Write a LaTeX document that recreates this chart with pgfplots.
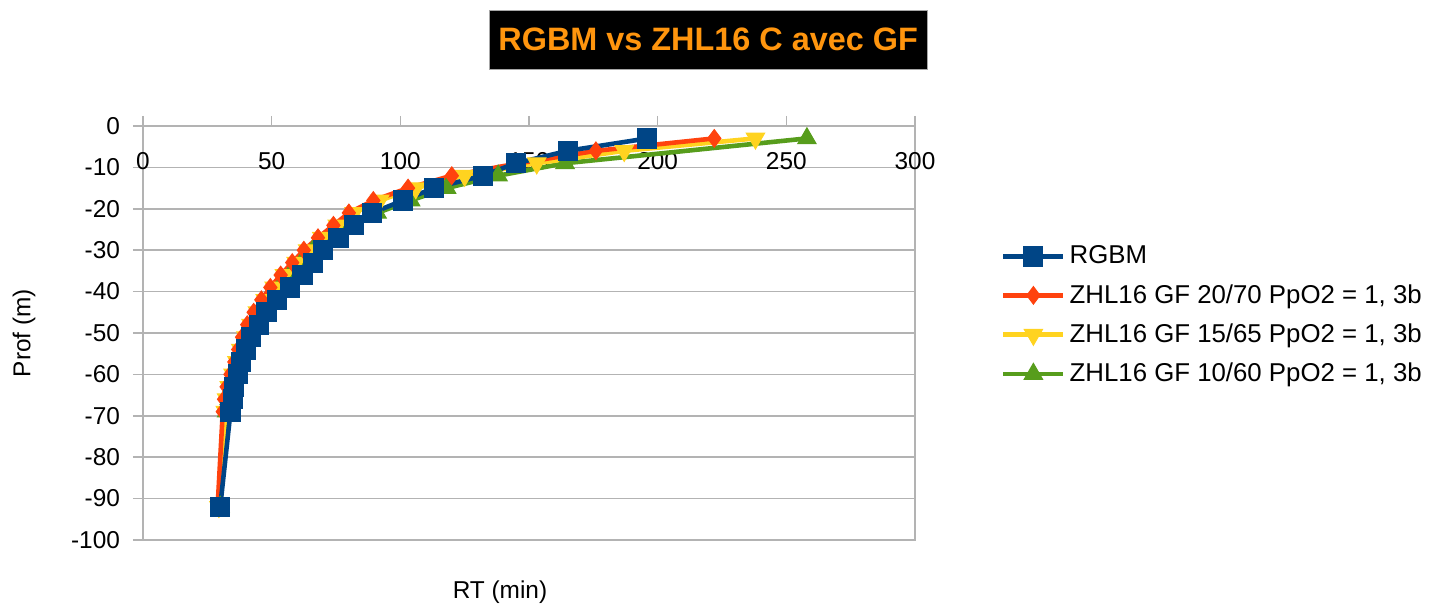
\documentclass[border=0pt]{standalone}
\usepackage{pgfplots}
\pgfplotsset{compat=1.18}
\usepackage{fontspec}
\setmainfont{Liberation Sans}
\definecolor{cblue}{HTML}{004586}
\definecolor{corange}{HTML}{FF420E}
\definecolor{cyellow}{HTML}{FFD320}
\definecolor{cgreen}{HTML}{579D1C}
\definecolor{ctitle}{HTML}{FF950E}
\definecolor{cgrid}{HTML}{B3B3B3}
\begin{document}
\begin{tikzpicture}
\begin{axis}[
  scale only axis, width=386pt, height=207pt,
  xmin=0, xmax=300, ymin=-100, ymax=0,
  xtick={0,50,...,300}, ytick={-100,-90,...,0},
  xtick pos=upper, ytick pos=left, xticklabel pos=upper,
  tick align=outside, major tick length=5pt,
  axis line style={cgrid, line width=0.75pt},
  every tick/.style={cgrid, line width=0.75pt},
  ymajorgrids, grid style={cgrid, line width=0.75pt},
  /pgf/number format/assume math mode=true,
  tick label style={font=\fontsize{12.2pt}{14pt}\selectfont},
  xticklabel style={anchor=center, yshift=-22.5pt},
  yticklabel style={xshift=-3pt},
  xlabel={RT (min)}, ylabel={Prof (m)},
  label style={font=\fontsize{12.2pt}{14pt}\selectfont},
  xlabel style={at={(rel axis cs:0.4624,-0.1256)}, anchor=center},
  ylabel style={at={(rel axis cs:-0.154,0.5)}, anchor=center, rotate=0},
  legend style={at={(1.111,0.5426)}, anchor=west, draw=none, fill=none,
    inner sep=0pt, row sep=4.8pt,
    font=\fontsize{12.9pt}{15pt}\selectfont},
  legend cell align=left,
  legend image code/.code={\draw[mark repeat=2,mark phase=2,#1] plot coordinates {(0pt,0pt) (15pt,0pt) (30pt,0pt)};},
  reverse legend,
]
\addplot[cgreen, line width=2.3pt, mark=triangle*, mark size=5.3pt, mark options={solid, line width=0.5pt}] coordinates {
(30,-92) (32.5,-69) (33.5,-66) (34.5,-63) (36,-60) (37.5,-57) (39.5,-54) (41.5,-51) (44,-48) (46.5,-45) (49.5,-42) (53,-39) (57,-36) (61.5,-33) (66,-30) (73,-27) (80,-24) (91,-21) (104,-18) (118,-15) (138,-12) (164,-9) (258,-3)};
\addlegendentry{ZHL16 GF 10/60 PpO2 = 1, 3b}
\addplot[cyellow, line width=2.3pt, mark=triangle*, mark size=5.3pt, mark options={solid, rotate=180, line width=0.5pt}] coordinates {
(29.5,-92) (32,-69) (32.5,-66) (33.5,-63) (35,-60) (36.5,-57) (38,-54) (40,-51) (42,-48) (44.5,-45) (47.5,-42) (51,-39) (55,-36) (59.5,-33) (64,-30) (69.5,-27) (75.5,-24) (82,-21) (92,-18) (106,-15) (125,-12) (153,-9) (187,-6) (238,-3)};
\addlegendentry{ZHL16 GF 15/65 PpO2 = 1, 3b}
\addplot[corange, line width=2.3pt, mark=diamond*, mark size=4.4pt, mark options={solid, line width=0.5pt}] coordinates {
(29,-92) (31,-69) (31.5,-66) (32.5,-63) (34,-60) (35.5,-57) (37,-54) (38.5,-51) (40.5,-48) (43,-45) (46,-42) (49.5,-39) (53.5,-36) (58,-33) (62.5,-30) (68,-27) (74,-24) (80,-21) (89.5,-18) (103,-15) (120,-12) (146,-9) (176,-6) (222,-3)};
\addlegendentry{ZHL16 GF 20/70 PpO2 = 1, 3b}
\addplot[cblue, line width=2.3pt, mark=square*, mark size=4.8pt, mark options={solid, line width=0.5pt}] coordinates {
(30,-92) (34,-69) (35,-66) (35.5,-63) (37,-60) (38,-57) (40,-54) (42,-51) (45,-48) (48,-45) (52,-42) (57,-39) (62,-36) (66,-33) (70,-30) (76,-27) (82,-24) (89,-21) (101,-18) (113,-15) (132,-12) (145,-9) (165,-6) (196,-3)};
\addlegendentry{RGBM}
\end{axis}
\node[fill=black, draw=gray!70, line width=0.4pt, text=ctitle, font=\fontsize{16.2pt}{19pt}\selectfont\bfseries,
  minimum width=219.2pt, minimum height=29.2pt, inner sep=0pt] at (282.6pt,250.1pt) {RGBM vs ZHL16 C avec GF};
\pgfresetboundingbox
\useasboundingbox (-71.5pt,-32pt) rectangle (644pt,270pt);
\end{tikzpicture}
\end{document}
